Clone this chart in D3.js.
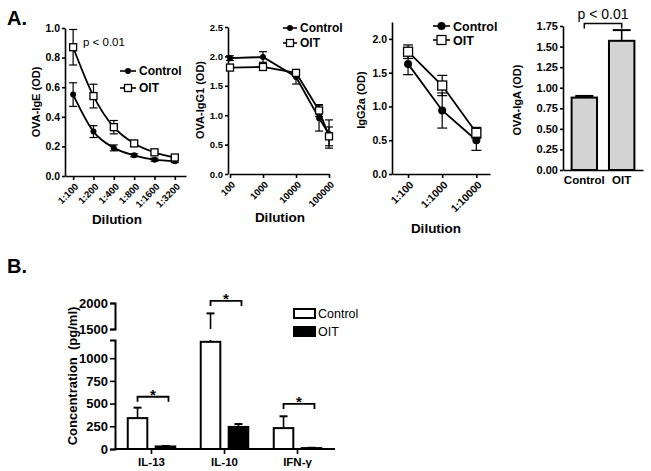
<!DOCTYPE html>
<html>
<head>
<meta charset="utf-8">
<script src="https://cdn.jsdelivr.net/npm/d3@7"></script>
<style>
  body { margin: 0; background: #fff; }
  svg { font-family: "Liberation Sans", Arial, sans-serif; }
  .axis path, .axis line { stroke: #000; stroke-width: 1.6px; }
  .axis text { font-weight: bold; fill: #000; }
  .title { font-weight: bold; }
</style>
</head>
<body>
<div id="chart"></div>
<script>
// ---- Panel A1: OVA-IgE ----
const igeDilutions = ["1:100", "1:200", "1:400", "1:800", "1:1600", "1:3200"];
const igeControl = [0.55, 0.30, 0.19, 0.14, 0.11, 0.10];
const igeControlErr = [0.08, 0.04, 0.02, 0.01, 0.01, 0.01];
const igeOit = [0.87, 0.54, 0.33, 0.22, 0.16, 0.125];
const igeOitErr = [0.12, 0.08, 0.045, 0.02, 0.01, 0.01];

// ---- Panel A2: OVA-IgG1 ----
const igg1Dilutions = [100, 1000, 10000, 50000, 100000];
const igg1Ticks = [100, 1000, 10000, 100000];
const igg1Control = [1.97, 1.99, 1.65, 0.95, 0.68];
const igg1ControlErr = [0.04, 0.09, 0.12, 0.22, 0.24];
const igg1Oit = [1.81, 1.82, 1.72, 1.08, 0.64];
const igg1OitErr = [0.03, 0.03, 0.04, 0.1, 0.16];

// ---- Panel A3: IgG2a ----
const igg2aDilutions = ["1:100", "1:1000", "1:10000"];
const igg2aControl = [1.63, 0.94, 0.50];
const igg2aControlErr = [0.16, 0.26, 0.15];
const igg2aOit = [1.81, 1.31, 0.61];
const igg2aOitErr = [0.10, 0.15, 0.08];

// ---- Panel A4: OVA-IgA ----
const igaGroups = ["Control", "OIT"];
const igaValues = [0.88, 1.57];
const igaErr = [0.02, 0.13];

// ---- Panel B: cytokines ----
const cytokines = ["IL-13", "IL-10", "IFN-\u03B3"];
const groupsB = ["Control", "OIT"];
const cytoControl = [340, 1180, 230];
const cytoControlErr = [115, 620, 130];
const cytoOit = [28, 243, 10];
const cytoOitErr = [5, 32, 3];
const bracketLevels = [575, 2040, 496];

const W = 651, H = 471;
const svg = d3.select("#chart").append("svg").attr("width", W).attr("height", H);

svg.append("text").attr("class", "title").attr("x", 7).attr("y", 25)
  .style("font-size", "20px").text("A.");
svg.append("text").attr("class", "title").attr("x", 7).attr("y", 273)
  .style("font-size", "20px").text("B.");

// generic line panel
function linePanel(cfg) {
  const g = svg.append("g");
  const x = cfg.x, y = cfg.y;

  g.append("g").attr("class", "axis")
    .attr("transform", `translate(${cfg.axisX},0)`)
    .call(d3.axisLeft(y).tickValues(cfg.yTicks).tickFormat(cfg.yFormat).tickSize(3).tickPadding(2).tickSizeOuter(0))
    .call(a => a.selectAll("text").style("font-size", cfg.tickFont));

  const xa = g.append("g").attr("class", "axis")
    .attr("transform", `translate(0,${cfg.axisY})`)
    .call(d3.axisBottom(x).tickValues(cfg.xTicks).tickFormat(cfg.xFormat).tickSize(4).tickSizeOuter(0));
  xa.selectAll("text")
    .style("font-size", cfg.xTickFont)
    .style("text-anchor", "end")
    .attr("y", 0).attr("dy", "0.35em")
    .attr("transform", "translate(3,9) rotate(-45)");

  g.append("text").attr("class", "title")
    .attr("transform", `translate(${cfg.ylabX},${cfg.ylabY}) rotate(-90)`)
    .attr("text-anchor", "middle").style("font-size", cfg.ylabFont).text(cfg.ylab);
  g.append("text").attr("class", "title")
    .attr("x", cfg.xlabX).attr("y", cfg.xlabY)
    .attr("text-anchor", "middle").style("font-size", cfg.xlabFont).text("Dilution");

  const series = [
    { vals: cfg.control, err: cfg.controlErr, type: "circle" },
    { vals: cfg.oit, err: cfg.oitErr, type: "square" }
  ];
  const line = d3.line().x(d => x(d.x)).y(d => y(d.v)).curve(cfg.curve);

  series.forEach(s => {
    const pts = cfg.xVals.map((xv, i) => ({ x: xv, v: s.vals[i], e: s.err[i] }));
    // error bars
    const eb = g.append("g").attr("stroke", "#000").attr("stroke-width", 1.2);
    pts.forEach(p => {
      const cx = x(p.x);
      eb.append("line").attr("x1", cx).attr("x2", cx).attr("y1", y(p.v - p.e)).attr("y2", y(p.v + p.e));
      [p.v - p.e, p.v + p.e].forEach(v => {
        eb.append("line").attr("x1", cx - cfg.cap).attr("x2", cx + cfg.cap).attr("y1", y(v)).attr("y2", y(v));
      });
    });
    g.append("path").datum(pts).attr("d", line)
      .attr("fill", "none").attr("stroke", "#000").attr("stroke-width", 1.8);
  });
  series.forEach(s => {
    const pts = cfg.xVals.map((xv, i) => ({ x: xv, v: s.vals[i] }));
    if (s.type === "circle") {
      g.selectAll(null).data(pts).join("circle")
        .attr("cx", d => x(d.x)).attr("cy", d => y(d.v)).attr("r", cfg.r).attr("fill", "#000");
    } else {
      g.selectAll(null).data(pts).join("rect")
        .attr("x", d => x(d.x) - cfg.sq / 2).attr("y", d => y(d.v) - cfg.sq / 2)
        .attr("width", cfg.sq).attr("height", cfg.sq)
        .attr("fill", "#fff").attr("stroke", "#000").attr("stroke-width", 1.3);
    }
  });

  // legend
  const lg = g.append("g").attr("transform", `translate(${cfg.legX},${cfg.legY})`);
  ["Control", "OIT"].forEach((name, i) => {
    const yy = i * cfg.legGap;
    lg.append("line").attr("x1", 0).attr("x2", cfg.legLen).attr("y1", yy).attr("y2", yy)
      .attr("stroke", "#000").attr("stroke-width", 1.6);
    if (i === 0) {
      lg.append("circle").attr("cx", cfg.legLen / 2).attr("cy", yy).attr("r", cfg.r).attr("fill", "#000");
    } else {
      lg.append("rect").attr("x", cfg.legLen / 2 - cfg.sq / 2).attr("y", yy - cfg.sq / 2)
        .attr("width", cfg.sq).attr("height", cfg.sq)
        .attr("fill", "#fff").attr("stroke", "#000").attr("stroke-width", 1.3);
    }
    lg.append("text").attr("class", "title").attr("x", cfg.legLen + 3).attr("y", yy)
      .attr("dy", "0.36em").style("font-size", cfg.legFont).text(name);
  });
  return g;
}

// A1
const idx1 = d3.range(igeDilutions.length);
const g1 = linePanel({
  x: d3.scaleLinear().domain([-0.4, 5.55]).range([65, 186]),
  y: d3.scaleLinear().domain([0, 1.0]).range([176, 28]),
  axisX: 65, axisY: 176,
  xVals: idx1, xTicks: idx1, xFormat: i => igeDilutions[i],
  yTicks: [0, 0.2, 0.4, 0.6, 0.8, 1.0], yFormat: d3.format(".1f"),
  control: igeControl, controlErr: igeControlErr, oit: igeOit, oitErr: igeOitErr,
  curve: d3.curveMonotoneX, cap: 4, r: 3, sq: 7,
  tickFont: "10.5px", xTickFont: "9.5px",
  ylab: "OVA-IgE (OD)", ylabX: 40, ylabY: 102, ylabFont: "11px",
  xlabX: 117, xlabY: 224, xlabFont: "13.5px",
  legX: 120, legY: 71, legGap: 17, legLen: 16, legFont: "12px"
});
g1.append("text").attr("x", 83).attr("y", 46).style("font-size", "11.5px").text("p < 0.01");

// A2
linePanel({
  x: d3.scaleLog().domain([100, 100000]).range([230, 329]),
  y: d3.scaleLinear().domain([0, 2.5]).range([174, 27]),
  axisX: 228, axisY: 174,
  xVals: igg1Dilutions, xTicks: igg1Ticks, xFormat: d3.format("d"),
  yTicks: [0, 0.5, 1, 1.5, 2, 2.5], yFormat: d3.format(".1f"),
  control: igg1Control, controlErr: igg1ControlErr, oit: igg1Oit, oitErr: igg1OitErr,
  curve: d3.curveLinear, cap: 4, r: 3, sq: 7,
  tickFont: "9.5px", xTickFont: "9.5px",
  ylab: "OVA-IgG1 (OD)", ylabX: 204, ylabY: 100, ylabFont: "11px",
  xlabX: 280, xlabY: 222, xlabFont: "13.5px",
  legX: 283, legY: 28, legGap: 15, legLen: 14, legFont: "12px"
});

// A3
const idx3 = d3.range(igg2aDilutions.length);
linePanel({
  x: d3.scaleLinear().domain([-0.47, 2.4]).range([392, 490]),
  y: d3.scaleLinear().domain([0, 2.25]).range([174, 22]),
  axisX: 392, axisY: 174,
  xVals: idx3, xTicks: idx3, xFormat: i => igg2aDilutions[i],
  yTicks: [0, 0.5, 1, 1.5, 2], yFormat: d3.format(".1f"),
  control: igg2aControl, controlErr: igg2aControlErr, oit: igg2aOit, oitErr: igg2aOitErr,
  curve: d3.curveLinear, cap: 5, r: 4, sq: 9,
  tickFont: "10.5px", xTickFont: "10.5px",
  ylab: "IgG2a (OD)", ylabX: 365, ylabY: 100, ylabFont: "11px",
  xlabX: 436, xlabY: 233, xlabFont: "13.5px",
  legX: 433, legY: 26, legGap: 14, legLen: 17, legFont: "12.5px"
});

// A4 bar chart
{
  const g = svg.append("g");
  const x = d3.scaleBand().domain(igaGroups).range([563, 643]).paddingInner(0.32).paddingOuter(0.23);
  const y = d3.scaleLinear().domain([0, 1.75]).range([170, 26]);
  g.append("g").attr("class", "axis").attr("transform", "translate(563,0)")
    .call(d3.axisLeft(y).tickValues(d3.range(0, 1.76, 0.25)).tickFormat(d3.format(".2f")).tickSize(3).tickPadding(2).tickSizeOuter(0))
    .call(a => a.selectAll("text").style("font-size", "11px"));
  g.append("g").attr("class", "axis").attr("transform", "translate(0,170)")
    .call(d3.axisBottom(x).tickSize(0).tickSizeOuter(0).tickPadding(6))
    .call(a => a.selectAll("text").style("font-size", "11.5px"));
  const data = igaGroups.map((k, i) => ({ k, v: igaValues[i], e: igaErr[i] }));
  data.forEach(d => {
    const cx = x(d.k) + x.bandwidth() / 2;
    g.append("line").attr("x1", cx).attr("x2", cx).attr("y1", y(d.v)).attr("y2", y(d.v + d.e))
      .attr("stroke", "#000").attr("stroke-width", 1.6);
    g.append("line").attr("x1", cx - 9).attr("x2", cx + 9).attr("y1", y(d.v + d.e)).attr("y2", y(d.v + d.e))
      .attr("stroke", "#000").attr("stroke-width", 2);
  });
  g.selectAll(null).data(data).join("rect")
    .attr("x", d => x(d.k)).attr("y", d => y(d.v))
    .attr("width", x.bandwidth()).attr("height", d => y(0) - y(d.v))
    .attr("fill", "#d3d3d3").attr("stroke", "#000").attr("stroke-width", 2);
  const bx1 = x("Control") + x.bandwidth() / 2, bx2 = x("OIT") + x.bandwidth() / 2;
  const by = y(1.78);
  g.append("path").attr("d", `M${bx1},${by + 5}V${by}H${bx2}V${by + 5}`)
    .attr("fill", "none").attr("stroke", "#000").attr("stroke-width", 1.5);
  g.append("text").attr("x", (bx1 + bx2) / 2).attr("y", 19).attr("text-anchor", "middle")
    .style("font-size", "14px").text("p < 0.01");
  g.append("text").attr("class", "title")
    .attr("transform", "translate(521,100) rotate(-90)")
    .attr("text-anchor", "middle").style("font-size", "11px").text("OVA-IgA (OD)");
}

// B cytokine bar chart with broken axis
{
  const g = svg.append("g");
  const yLow = d3.scaleLinear().domain([0, 1200]).range([449, 340]);
  const yHigh = d3.scaleLinear().domain([1500, 2000]).range([329, 303]);
  const yB = v => (v <= 1200 ? yLow(v) : yHigh(v));
  const x0 = d3.scaleBand().domain(cytokines).range([115, 334]);
  const x1 = d3.scaleBand().domain(groupsB).range([-23.75, 23.75]).paddingInner(0.3);
  const center = k => x0(k) + x0.bandwidth() / 2;

  g.append("g").attr("class", "axis").attr("transform", "translate(115,0)")
    .call(d3.axisLeft(yLow).tickValues([0, 250, 500, 750, 1000]).tickFormat(d3.format("d")).tickSize(5).tickPadding(2).tickSizeOuter(5))
    .call(a => a.selectAll("text").style("font-size", "13px"));
  g.append("g").attr("class", "axis").attr("transform", "translate(115,0)")
    .call(d3.axisLeft(yHigh).tickValues([1500, 2000]).tickFormat(d3.format("d")).tickSize(5).tickPadding(2).tickSizeOuter(5))
    .call(a => a.selectAll("text").style("font-size", "13px"));
  g.selectAll(".axis path").style("stroke-width", "2px");

  const rows = [];
  cytokines.forEach((c, i) => {
    rows.push({ c, grp: "Control", v: cytoControl[i], e: cytoControlErr[i] });
    rows.push({ c, grp: "OIT", v: cytoOit[i], e: cytoOitErr[i] });
  });
  const bx = d => center(d.c) + x1(d.grp);

  // error bars (upper only)
  rows.forEach(d => {
    const cx = bx(d) + x1.bandwidth() / 2;
    const top = d.v + d.e;
    const segs = top > 1200 ? [[d.v, 1200], [1500, top]] : [[d.v, top]];
    segs.forEach(s => g.append("line").attr("x1", cx).attr("x2", cx)
      .attr("y1", yB(s[0])).attr("y2", yB(s[1])).attr("stroke", "#000").attr("stroke-width", 1.6));
    g.append("line").attr("x1", cx - 4).attr("x2", cx + 4).attr("y1", yB(top)).attr("y2", yB(top))
      .attr("stroke", "#000").attr("stroke-width", 2);
  });

  g.selectAll(null).data(rows).join("rect")
    .attr("x", d => bx(d)).attr("y", d => yB(d.v))
    .attr("width", x1.bandwidth()).attr("height", d => yLow(0) - yB(d.v))
    .attr("fill", d => (d.grp === "Control" ? "#fff" : "#000"))
    .attr("stroke", "#000").attr("stroke-width", 2);

  g.append("g").attr("class", "axis").attr("transform", "translate(0,449)")
    .call(d3.axisBottom(x0).tickSize(5).tickSizeOuter(0).tickPadding(4))
    .call(a => a.selectAll("text").style("font-size", "11.5px"))
    .call(a => a.select(".domain").attr("d", "M115,0H335").style("stroke-width", "2px"));

  // significance brackets
  cytokines.forEach((c, i) => {
    const xa = center(c) + x1("Control") + x1.bandwidth() / 2;
    const xb = center(c) + x1("OIT") + x1.bandwidth() / 2 + 3;
    const yy = yB(bracketLevels[i]);
    g.append("path").attr("d", `M${xa},${yy + 5}V${yy}H${xb}V${yy + 5}`)
      .attr("fill", "none").attr("stroke", "#000").attr("stroke-width", 1.8);
    g.append("text").attr("x", (xa + xb) / 2).attr("y", yy + 3).attr("text-anchor", "middle")
      .style("font-size", "15px").style("font-weight", "bold").text("*");
  });

  g.append("text").attr("class", "title")
    .attr("transform", "translate(77,376) rotate(-90)")
    .attr("text-anchor", "middle").style("font-size", "13px").attr("xml:space", "preserve")
    .text("Concentration  (pg/ml)");

  // legend
  const lg = g.append("g").attr("transform", "translate(294,309)");
  groupsB.forEach((name, i) => {
    lg.append("rect").attr("x", 0).attr("y", i * 18).attr("width", 21).attr("height", 9)
      .attr("fill", name === "Control" ? "#fff" : "#000").attr("stroke", "#000").attr("stroke-width", 2);
    lg.append("text").attr("x", 24).attr("y", i * 18 + 4.5).attr("dy", "0.36em")
      .style("font-size", "12.5px").text(name);
  });
}
</script>
</body>
</html>
